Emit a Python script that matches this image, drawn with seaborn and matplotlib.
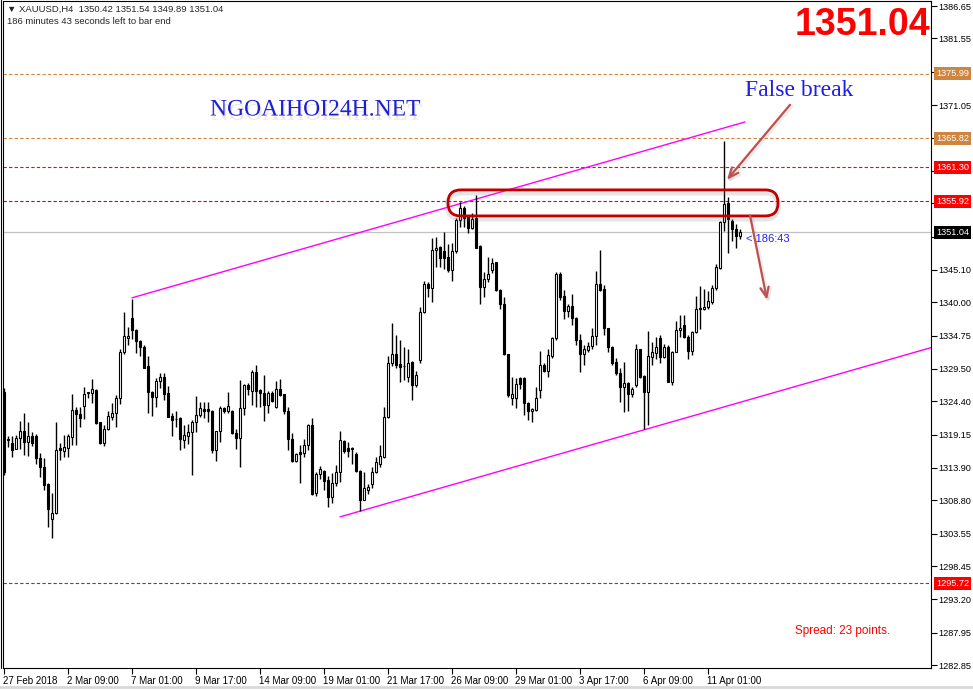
import numpy as np
import pandas as pd
import seaborn as sns
import matplotlib.pyplot as plt
import matplotlib.patheffects as pe
from matplotlib.patches import FancyBboxPatch
from matplotlib.lines import Line2D
import matplotlib.transforms as mtransforms

# XAUUSD H4 candles, 27 Feb 2018 -> 12 Apr 2018
opens = [1325.9, 1318.3, 1317.8, 1316.9, 1318.6, 1319.8, 1318.0, 1318.9, 1319.0, 1315.4,
         1314.0, 1311.4, 1305.8, 1306.8, 1317.0, 1316.6, 1317.0, 1318.8, 1323.0, 1322.4,
         1323.7, 1325.7, 1325.7, 1326.2, 1321.1, 1317.9, 1320.1, 1322.0, 1322.5, 1325.0,
         1332.2, 1334.3, 1337.6, 1335.7, 1333.9, 1333.0, 1329.9, 1325.9, 1325.1, 1327.6,
         1328.2, 1325.7, 1322.1, 1321.6, 1321.7, 1318.3, 1319.0, 1319.6, 1321.1, 1322.2,
         1323.2, 1323.2, 1322.9, 1316.8, 1319.7, 1323.3, 1322.9, 1322.9, 1319.4, 1318.7,
         1323.3, 1326.9, 1326.1, 1329.0, 1326.2, 1325.7, 1323.8, 1325.7, 1323.5, 1326.3,
         1325.5, 1322.9, 1318.4, 1315.0, 1316.4, 1316.2, 1317.6, 1320.7, 1310.0, 1312.9,
         1313.4, 1312.0, 1309.4, 1311.6, 1313.2, 1318.2, 1317.1, 1316.9, 1316.1, 1313.4,
         1308.9, 1310.5, 1311.4, 1313.2, 1314.6, 1315.7, 1321.9, 1330.5, 1331.9, 1330.3,
         1330.0, 1328.3, 1330.6, 1327.0, 1330.9, 1338.4, 1342.9, 1342.2, 1348.2, 1348.7,
         1348.0, 1347.2, 1345.1, 1348.0, 1352.9, 1354.8, 1353.6, 1351.7, 1353.2, 1348.9,
         1342.4, 1343.6, 1345.1, 1346.3, 1342.0, 1339.8, 1331.8, 1324.9, 1324.9, 1328.1,
         1328.1, 1324.2, 1322.8, 1323.0, 1326.2, 1330.2, 1329.2, 1331.5, 1334.3, 1344.4,
         1341.0, 1338.7, 1339.4, 1337.6, 1334.0, 1331.8, 1332.5, 1333.1, 1334.7, 1342.9,
         1342.1, 1335.9, 1333.0, 1330.6, 1328.9, 1326.7, 1327.3, 1325.6, 1326.9, 1332.6,
         1328.4, 1325.9, 1331.4, 1332.0, 1334.4, 1331.4, 1332.9, 1327.5, 1332.2, 1335.7,
         1336.4, 1334.6, 1332.4, 1335.3, 1339.1, 1339.0, 1339.3, 1340.1, 1342.2, 1345.4,
         1352.6, 1355.7, 1352.8, 1351.6, 1350.42]
highs = [1326.5, 1318.9, 1319.0, 1319.1, 1321.3, 1322.5, 1321.1, 1319.6, 1319.2, 1316.2,
         1315.4, 1311.6, 1309.9, 1321.2, 1317.8, 1319.1, 1319.2, 1325.5, 1323.5, 1323.5,
         1326.6, 1325.9, 1327.9, 1326.4, 1321.2, 1320.7, 1322.9, 1324.2, 1325.4, 1332.7,
         1338.4, 1336.1, 1340.5, 1335.8, 1334.0, 1333.3, 1331.6, 1326.0, 1328.0, 1328.8,
         1328.9, 1326.8, 1322.6, 1322.8, 1322.0, 1320.7, 1320.9, 1321.4, 1325.3, 1324.3,
         1324.3, 1324.3, 1323.0, 1319.8, 1323.7, 1323.5, 1325.8, 1323.0, 1320.1, 1327.8,
         1327.2, 1327.3, 1329.3, 1330.1, 1326.3, 1328.5, 1326.1, 1326.0, 1327.6, 1327.9,
         1325.6, 1323.5, 1319.4, 1316.2, 1317.5, 1318.5, 1320.9, 1321.7, 1313.3, 1314.2,
         1313.6, 1312.7, 1313.1, 1314.4, 1319.7, 1318.3, 1318.0, 1317.2, 1316.4, 1313.6,
         1313.2, 1311.4, 1314.1, 1315.6, 1317.5, 1323.5, 1331.6, 1336.8, 1334.8, 1334.0,
         1333.0, 1332.7, 1330.8, 1329.1, 1339.2, 1343.4, 1343.2, 1350.2, 1350.3, 1348.9,
         1351.1, 1349.2, 1349.3, 1353.2, 1355.8, 1355.2, 1353.8, 1354.0, 1356.9, 1349.0,
         1344.8, 1347.2, 1346.9, 1346.4, 1342.1, 1340.9, 1331.9, 1328.2, 1328.0, 1328.3,
         1328.2, 1324.3, 1323.4, 1326.7, 1332.4, 1330.4, 1332.7, 1334.6, 1344.7, 1344.7,
         1342.0, 1339.8, 1341.3, 1337.7, 1335.0, 1333.3, 1333.7, 1336.0, 1345.0, 1348.2,
         1342.7, 1336.0, 1333.1, 1331.3, 1329.6, 1330.6, 1327.5, 1326.7, 1333.4, 1332.7,
         1328.5, 1335.5, 1333.8, 1334.6, 1334.8, 1333.5, 1333.3, 1332.4, 1337.0, 1338.0,
         1338.0, 1334.8, 1335.5, 1341.0, 1342.6, 1342.1, 1341.7, 1342.7, 1346.1, 1352.8,
         1365.4, 1356.6, 1353.1, 1352.3, 1351.54]
lows = [1312.8, 1317.2, 1315.6, 1316.9, 1316.9, 1316.0, 1315.8, 1317.4, 1314.6, 1312.5,
        1310.4, 1304.6, 1302.8, 1306.6, 1315.1, 1315.7, 1315.7, 1317.5, 1317.5, 1320.3,
        1321.6, 1325.0, 1324.1, 1320.9, 1317.7, 1317.4, 1319.9, 1321.4, 1320.4, 1324.0,
        1331.8, 1333.3, 1334.2, 1332.0, 1331.5, 1329.6, 1322.6, 1322.1, 1323.5, 1326.5,
        1324.6, 1321.9, 1319.0, 1320.4, 1316.8, 1317.0, 1317.7, 1312.8, 1319.6, 1321.9,
        1321.7, 1321.1, 1316.3, 1315.0, 1318.0, 1322.6, 1322.6, 1319.2, 1316.9, 1314.0,
        1322.2, 1325.4, 1323.8, 1323.5, 1323.5, 1321.3, 1322.6, 1324.3, 1323.4, 1325.2,
        1322.4, 1316.8, 1314.9, 1314.9, 1311.6, 1315.6, 1316.8, 1309.6, 1309.5, 1312.2,
        1310.4, 1307.8, 1308.4, 1311.0, 1311.7, 1316.2, 1315.6, 1314.6, 1313.3, 1307.2,
        1308.8, 1309.8, 1310.7, 1313.1, 1314.1, 1315.4, 1321.7, 1329.9, 1329.6, 1327.5,
        1327.7, 1327.5, 1324.6, 1326.7, 1330.5, 1338.3, 1340.9, 1340.1, 1345.6, 1345.6,
        1345.3, 1344.8, 1343.4, 1347.7, 1351.9, 1351.9, 1350.9, 1351.6, 1348.5, 1339.8,
        1340.9, 1343.2, 1344.6, 1341.8, 1339.0, 1331.7, 1325.1, 1323.8, 1323.4, 1326.4,
        1322.2, 1321.5, 1321.1, 1322.9, 1324.9, 1329.0, 1328.3, 1331.2, 1334.0, 1340.4,
        1337.3, 1337.7, 1336.4, 1333.3, 1329.0, 1330.2, 1332.2, 1332.7, 1333.3, 1341.7,
        1334.8, 1332.2, 1330.2, 1328.5, 1324.3, 1322.7, 1322.8, 1325.1, 1326.7, 1328.1,
        1320.1, 1320.7, 1330.2, 1331.1, 1330.4, 1331.2, 1327.4, 1326.9, 1332.1, 1334.6,
        1334.3, 1331.1, 1331.7, 1335.1, 1335.8, 1338.8, 1338.9, 1339.8, 1342.0, 1345.2,
        1351.2, 1347.7, 1349.6, 1348.6, 1349.89]
closes = [1313.3, 1318.4, 1316.8, 1318.6, 1319.8, 1318.0, 1318.9, 1317.8, 1315.4, 1314.0,
          1311.3, 1307.5, 1306.8, 1316.7, 1316.7, 1317.2, 1319.0, 1323.0, 1322.4, 1321.8,
          1325.5, 1325.8, 1326.3, 1321.0, 1317.9, 1320.1, 1322.1, 1322.5, 1325.0, 1332.2,
          1334.7, 1334.7, 1335.6, 1333.9, 1333.0, 1329.7, 1325.8, 1325.1, 1327.6, 1328.2,
          1325.5, 1322.0, 1321.5, 1321.6, 1318.4, 1319.1, 1319.6, 1321.1, 1322.2, 1323.4,
          1322.9, 1322.8, 1316.8, 1319.7, 1323.3, 1322.9, 1323.7, 1319.4, 1318.7, 1323.3,
          1326.9, 1326.3, 1329.0, 1326.1, 1325.7, 1323.8, 1325.7, 1324.5, 1326.3, 1325.4,
          1322.8, 1318.4, 1315.0, 1316.1, 1316.1, 1317.6, 1320.7, 1309.8, 1312.9, 1313.7,
          1311.9, 1309.4, 1311.6, 1313.2, 1318.3, 1316.6, 1316.6, 1317.0, 1313.5, 1308.8,
          1310.7, 1310.9, 1313.2, 1314.8, 1315.8, 1321.9, 1330.5, 1331.8, 1330.1, 1329.8,
          1329.9, 1330.5, 1327.0, 1328.6, 1338.4, 1342.9, 1342.2, 1348.2, 1348.6, 1346.9,
          1346.9, 1345.1, 1348.1, 1352.9, 1354.8, 1353.2, 1351.7, 1353.1, 1348.6, 1342.4,
          1343.6, 1344.4, 1346.2, 1342.0, 1339.8, 1331.8, 1325.4, 1325.5, 1327.2, 1327.1,
          1324.2, 1322.8, 1323.2, 1325.0, 1330.1, 1329.2, 1331.7, 1334.3, 1344.4, 1340.9,
          1338.7, 1339.4, 1337.5, 1334.0, 1331.8, 1332.6, 1333.1, 1334.7, 1342.9, 1341.9,
          1335.9, 1333.0, 1330.4, 1328.8, 1326.7, 1327.3, 1325.6, 1326.3, 1332.6, 1328.3,
          1325.9, 1331.5, 1332.1, 1332.9, 1331.4, 1332.9, 1327.5, 1332.2, 1335.7, 1336.0,
          1334.6, 1332.4, 1335.3, 1338.9, 1338.9, 1339.3, 1340.2, 1342.3, 1345.5, 1352.6,
          1355.4, 1353.1, 1351.6, 1350.5, 1351.04]

date_labels = ["27 Feb 2018", "2 Mar 09:00", "7 Mar 01:00", "9 Mar 17:00", "14 Mar 09:00",
               "19 Mar 01:00", "21 Mar 17:00", "26 Mar 09:00", "29 Mar 01:00", "3 Apr 17:00",
               "6 Apr 09:00", "11 Apr 01:00"]
price_ticks = [1386.65, 1381.55, 1376.30, 1371.05, 1365.95, 1360.70, 1355.60, 1350.35,
               1345.10, 1340.00, 1334.75, 1329.50, 1324.40, 1319.15, 1313.90, 1308.80,
               1303.55, 1298.45, 1293.20, 1287.95, 1282.85]
# tick values whose label sits under a price tag
covered_ticks = [1376.30, 1365.95, 1360.70, 1355.60, 1350.35]

levels = [1375.99, 1365.82, 1361.30, 1355.92, 1295.72]
level_line_colors = ['#CD853F', '#CD853F', '#FF0000', '#E00000', '#505050']
level_tag_colors = ['#CD853F', '#CD853F', '#FF0000', '#FF0000', '#FF0000']
bid = 1351.04

# channel lines (bar index, price)
upper_x = [32, 185.25]
upper_y = [1340.7, 1368.4]
lower_x = [84, 232]
lower_y = [1306.2, 1332.9]

df = pd.DataFrame({'open': opens, 'high': highs, 'low': lows, 'close': closes})
df['bar'] = np.arange(len(df))
up = df['close'] >= df['open']

sns.set_style("white")
plt.rcParams['font.family'] = ['Liberation Sans', 'DejaVu Sans']

fig = plt.figure(figsize=(9.73, 6.90), dpi=100)
ax = fig.add_axes([3 / 973, 22 / 690, 928 / 973, 667 / 690])
ax.set_xlim(-0.25, 231.75)
ax.set_ylim(1282.4, 1387.45)

# levels
for lv, lc in zip(levels, level_line_colors):
    ax.axhline(lv, color=lc, linestyle=(0, (3, 2)), linewidth=0.8, zorder=1)
ax.axhline(bid, color='#C0C0C0', linewidth=0.9, zorder=1)

# channel
sns.lineplot(x=upper_x, y=upper_y, color='#FF00FF', linewidth=1, ax=ax, zorder=2)
sns.lineplot(x=lower_x, y=lower_y, color='#FF00FF', linewidth=1, ax=ax, zorder=2)

# candles
ax.vlines(df['bar'], df['low'], df['high'], color='black', linewidth=1, zorder=3)
ax.bar(df['bar'][up], (df['close'] - df['open'])[up], bottom=df['open'][up], width=0.55,
       facecolor='white', edgecolor='black', linewidth=0.8, zorder=4)
ax.bar(df['bar'][~up], (df['open'] - df['close'])[~up], bottom=df['close'][~up], width=0.55,
       facecolor='black', edgecolor='black', linewidth=0.8, zorder=4)

# axes look
for s in ax.spines.values():
    s.set_color('black')
    s.set_linewidth(0.8)
ax.yaxis.tick_right()
ax.set_yticks(price_ticks)
ax.set_yticklabels(['' if p in covered_ticks else f'{p:.2f}' for p in price_ticks])
ax.set_xticks(np.arange(len(date_labels)) * 16)
ax.set_xticklabels(date_labels, ha='left')
ax.tick_params(axis='y', direction='out', length=4, width=0.8, pad=1.5, labelsize=6.6,
               colors='black', right=True, left=False)
ax.tick_params(axis='x', direction='out', length=4, width=0.8, pad=2, labelsize=7,
               colors='black', bottom=True)
for lbl in ax.get_xticklabels():
    lbl.set_transform(lbl.get_transform() + mtransforms.ScaledTranslation(-1 / 100, 0, fig.dpi_scale_trans))

# price tags on the right axis
tag_tr = mtransforms.blended_transform_factory(ax.transAxes, ax.transData)
for lv, tc in zip(levels, level_tag_colors):
    ax.text(1.0 + 5 / 928, lv, f'{lv:.2f}', transform=tag_tr, ha='left', va='center',
            fontsize=6.6, color='white', clip_on=False, zorder=6,
            bbox=dict(boxstyle='square,pad=0.22', fc=tc, ec='none'))
ax.text(1.0 + 5 / 928, bid, f'{bid:.2f}', transform=tag_tr, ha='left', va='center',
        fontsize=6.6, color='white', clip_on=False, zorder=6,
        bbox=dict(boxstyle='square,pad=0.22', fc='black', ec='none'))

# false-break box and arrows
shadow = [pe.SimpleLineShadow(offset=(0, -2), shadow_color='gray', alpha=0.2, linewidth=4), pe.Normal()]
box = FancyBboxPatch((111, 1353.6), 82.5, 4.1, boxstyle='round,pad=0,rounding_size=3.2',
                     mutation_aspect=4 / 6.35, fc='none', ec='#C00000', lw=2, zorder=5,
                     path_effects=shadow)
ax.add_patch(box)
for start, end in [((196.5, 1371.1), (180.75, 1359.3)), ((186.5, 1353.7), (190.75, 1340.4))]:
    ax.annotate('', xy=end, xytext=start, zorder=6,
                arrowprops=dict(arrowstyle='->,head_length=0.7,head_width=0.3',
                                color='#C0504D', lw=1.6, shrinkA=0, shrinkB=0,
                                path_effects=[pe.SimpleLineShadow(offset=(1, -1), shadow_color='gray',
                                                                  alpha=0.15, linewidth=3), pe.Normal()]))

ax.text(185.6, 1350.0, '< 186:43', color='#2020FF', fontsize=8, va='center', zorder=6)

# texts
fig.text(7 / 973, 1 - 9 / 690, '\u25BC XAUUSD,H4  1350.42 1351.54 1349.89 1351.04',
         fontsize=6.8, va='center')
fig.text(7 / 973, 1 - 22 / 690, '186 minutes 43 seconds left to bar end', fontsize=6.8, va='center')
fig.text(930 / 973, 1 - 25 / 690, '1351.04', ha='right', va='center', fontsize=27,
         fontweight='bold', color='#FF0000', family='Liberation Sans')
fig.text(210 / 973, 1 - 110 / 690, 'NGOAIHOI24H.NET', va='center', fontsize=17,
         family='Liberation Serif', color='#1E1ED2',
         path_effects=[pe.withSimplePatchShadow(offset=(1, -3), shadow_rgbFace='gray', alpha=0.18)])
fig.text(745 / 973, 1 - 90 / 690, 'False break', va='center', fontsize=17,
         family='Liberation Serif', color='#1E1EE6')
fig.text(795 / 973, 1 - 631 / 690, 'Spread: 23 points.', va='center', fontsize=8.5, color='#FF0000')

fig.add_artist(Line2D([0.5 / 973, 0.5 / 973], [22 / 690, 1], color='black', lw=0.8))
fig.add_artist(Line2D([0, 1], [3.5 / 690, 3.5 / 690], color='#D8D8D8', lw=2))

plt.savefig('out.png', dpi=100)
